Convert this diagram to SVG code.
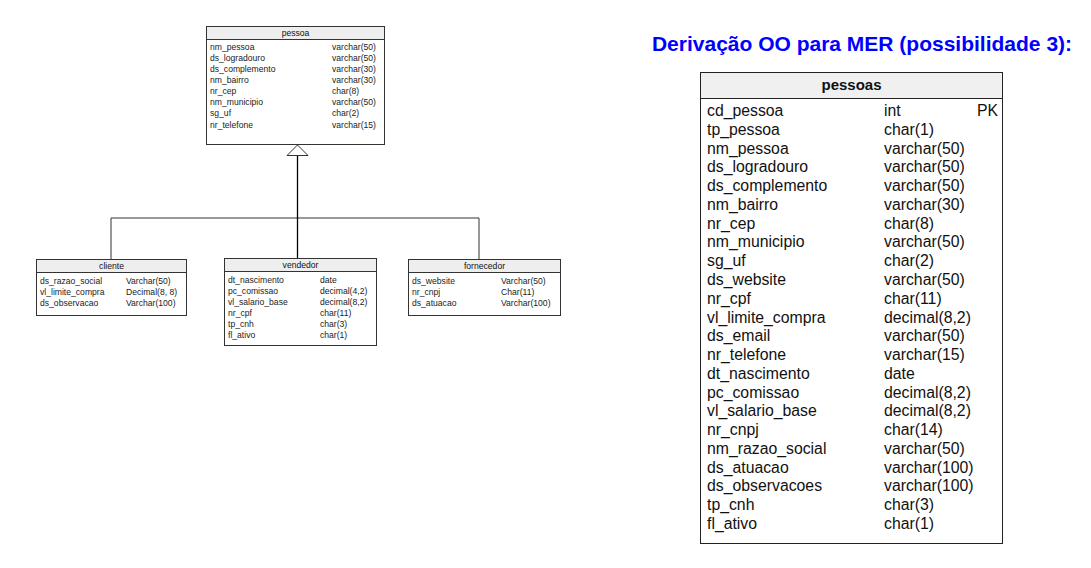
<svg xmlns="http://www.w3.org/2000/svg" width="1091" height="568" viewBox="0 0 1091 568">
<style>
.box{fill:#fff;stroke:#333;stroke-width:1}
.hdr{fill:#eeeeee;stroke:#333;stroke-width:1}
.s{font-family:"Liberation Sans",Arial,sans-serif;font-size:8.6px;fill:#222}
.sh{font-family:"Liberation Sans",Arial,sans-serif;font-size:8.6px;fill:#111;text-anchor:middle}
.b{font-family:"Liberation Sans",Arial,sans-serif;font-size:15.8px;fill:#111}
.bh{font-family:"Liberation Sans",Arial,sans-serif;font-size:15px;font-weight:bold;fill:#111;text-anchor:middle}
.ln{fill:none;stroke:#333;stroke-width:1}
</style>
<rect width="1091" height="568" fill="#fff"/>
<g id="connectors">
<polyline class="ln" points="111,259 111,218 479,218 479,259"/>
<line class="ln" x1="297.5" y1="155" x2="297.5" y2="258" style="stroke:#000;stroke-width:1.3"/>
<polygon points="297.5,145 287,155.5 308,155.5" fill="#fff" stroke="#333" stroke-width="1"/>
</g>
<g id="pessoa">
<rect class="box" x="206.5" y="26.5" width="178" height="118"/>
<rect class="hdr" x="206.5" y="26.5" width="178" height="13"/>
<text class="sh" x="295.5" y="36">pessoa</text>
<text class="s" x="210" y="50">nm_pessoa</text><text class="s" x="332" y="50">varchar(50)</text>
<text class="s" x="210" y="61">ds_logradouro</text><text class="s" x="332" y="61">varchar(50)</text>
<text class="s" x="210" y="72">ds_complemento</text><text class="s" x="332" y="72">varchar(30)</text>
<text class="s" x="210" y="83">nm_bairro</text><text class="s" x="332" y="83">varchar(30)</text>
<text class="s" x="210" y="94">nr_cep</text><text class="s" x="332" y="94">char(8)</text>
<text class="s" x="210" y="105">nm_municipio</text><text class="s" x="332" y="105">varchar(50)</text>
<text class="s" x="210" y="116">sg_uf</text><text class="s" x="332" y="116">char(2)</text>
<text class="s" x="210" y="128">nr_telefone</text><text class="s" x="332" y="128">varchar(15)</text>
</g>
<g id="cliente">
<rect class="box" x="36.5" y="259.5" width="150" height="56"/>
<rect class="hdr" x="36.5" y="259.5" width="150" height="13"/>
<text class="sh" x="111.5" y="269">cliente</text>
<text class="s" x="40" y="284">ds_razao_social</text><text class="s" x="126" y="284">Varchar(50)</text>
<text class="s" x="40" y="295">vl_limite_compra</text><text class="s" x="126" y="295">Decimal(8, 8)</text>
<text class="s" x="40" y="306">ds_observacao</text><text class="s" x="126" y="306">Varchar(100)</text>
</g>
<g id="vendedor">
<rect class="box" x="224.5" y="258.5" width="152" height="87"/>
<rect class="hdr" x="224.5" y="258.5" width="152" height="13"/>
<text class="sh" x="300.5" y="268">vendedor</text>
<text class="s" x="228" y="283">dt_nascimento</text><text class="s" x="320" y="283">date</text>
<text class="s" x="228" y="294">pc_comissao</text><text class="s" x="320" y="294">decimal(4,2)</text>
<text class="s" x="228" y="305">vl_salario_base</text><text class="s" x="320" y="305">decimal(8,2)</text>
<text class="s" x="228" y="316">nr_cpf</text><text class="s" x="320" y="316">char(11)</text>
<text class="s" x="228" y="327">tp_cnh</text><text class="s" x="320" y="327">char(3)</text>
<text class="s" x="228" y="338">fl_ativo</text><text class="s" x="320" y="338">char(1)</text>
</g>
<g id="fornecedor">
<rect class="box" x="408.5" y="259.5" width="152" height="56"/>
<rect class="hdr" x="408.5" y="259.5" width="152" height="13"/>
<text class="sh" x="484.5" y="269">fornecedor</text>
<text class="s" x="412" y="284">ds_website</text><text class="s" x="501" y="284">Varchar(50)</text>
<text class="s" x="412" y="295">nr_cnpj</text><text class="s" x="501" y="295">Char(11)</text>
<text class="s" x="412" y="306">ds_atuacao</text><text class="s" x="501" y="306">Varchar(100)</text>
</g>
<g id="title">
<text x="862" y="51" text-anchor="middle" font-family="'Liberation Sans',Arial,sans-serif" font-size="21px" font-weight="bold" fill="#0000ff">Derivação OO para MER (possibilidade 3):</text>
</g>
<g id="pessoas">
<rect x="700.5" y="72.5" width="302" height="471" fill="#fff" stroke="#222" stroke-width="1"/>
<rect x="700.5" y="72.5" width="302" height="26" fill="#f0f0f0" stroke="#222" stroke-width="1"/>
<text class="bh" x="851.5" y="90">pessoas</text>
<text class="b" x="998" y="116" text-anchor="end">PK</text>
<g class="b">
<text x="707" y="116">cd_pessoa</text><text x="884" y="116">int</text>
<text x="707" y="134.8">tp_pessoa</text><text x="884" y="134.8">char(1)</text>
<text x="707" y="153.5">nm_pessoa</text><text x="884" y="153.5">varchar(50)</text>
<text x="707" y="172.3">ds_logradouro</text><text x="884" y="172.3">varchar(50)</text>
<text x="707" y="191.1">ds_complemento</text><text x="884" y="191.1">varchar(50)</text>
<text x="707" y="209.9">nm_bairro</text><text x="884" y="209.9">varchar(30)</text>
<text x="707" y="228.6">nr_cep</text><text x="884" y="228.6">char(8)</text>
<text x="707" y="247.4">nm_municipio</text><text x="884" y="247.4">varchar(50)</text>
<text x="707" y="266.2">sg_uf</text><text x="884" y="266.2">char(2)</text>
<text x="707" y="284.9">ds_website</text><text x="884" y="284.9">varchar(50)</text>
<text x="707" y="303.7">nr_cpf</text><text x="884" y="303.7">char(11)</text>
<text x="707" y="322.5">vl_limite_compra</text><text x="884" y="322.5">decimal(8,2)</text>
<text x="707" y="341.2">ds_email</text><text x="884" y="341.2">varchar(50)</text>
<text x="707" y="360">nr_telefone</text><text x="884" y="360">varchar(15)</text>
<text x="707" y="378.8">dt_nascimento</text><text x="884" y="378.8">date</text>
<text x="707" y="397.6">pc_comissao</text><text x="884" y="397.6">decimal(8,2)</text>
<text x="707" y="416.3">vl_salario_base</text><text x="884" y="416.3">decimal(8,2)</text>
<text x="707" y="435.1">nr_cnpj</text><text x="884" y="435.1">char(14)</text>
<text x="707" y="453.9">nm_razao_social</text><text x="884" y="453.9">varchar(50)</text>
<text x="707" y="472.6">ds_atuacao</text><text x="884" y="472.6">varchar(100)</text>
<text x="707" y="491.4">ds_observacoes</text><text x="884" y="491.4">varchar(100)</text>
<text x="707" y="510.2">tp_cnh</text><text x="884" y="510.2">char(3)</text>
<text x="707" y="529">fl_ativo</text><text x="884" y="529">char(1)</text>
</g>
</g>
</svg>
